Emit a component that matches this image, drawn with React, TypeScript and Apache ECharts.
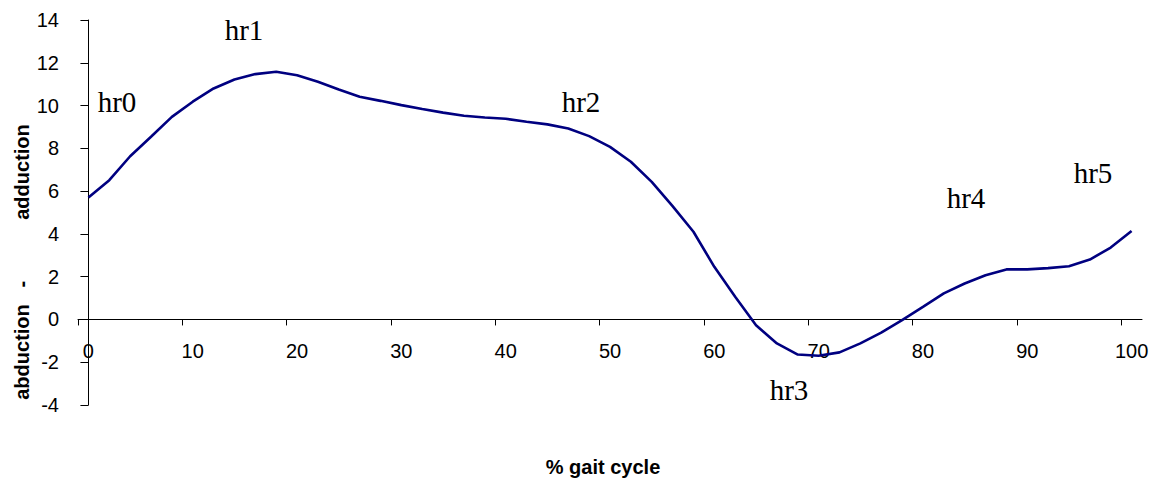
import React, { useEffect, useRef } from "react";
import * as echarts from "echarts";

// % of gait cycle (sampled every 2 %)
const gaitPct = [
  0, 2, 4, 6, 8, 10, 12, 14, 16, 18, 20, 22, 24, 26, 28, 30, 32, 34, 36, 38, 40,
  42, 44, 46, 48, 50, 52, 54, 56, 58, 60, 62, 64, 66, 68, 70, 72, 74, 76, 78, 80,
  82, 84, 86, 88, 90, 92, 94, 96, 98, 100,
];

// hip ab/adduction angle (degrees)
const hipAngle = [
  5.7, 6.51, 7.63, 8.54, 9.47, 10.18, 10.8, 11.22, 11.47, 11.58, 11.42, 11.11,
  10.75, 10.41, 10.22, 10.02, 9.84, 9.67, 9.52, 9.44, 9.38, 9.24, 9.12, 8.93,
  8.57, 8.07, 7.37, 6.43, 5.3, 4.1, 2.46, 1.06, -0.27, -1.12, -1.64, -1.7,
  -1.54, -1.12, -0.62, -0.03, 0.59, 1.22, 1.68, 2.07, 2.34, 2.34, 2.4, 2.49,
  2.8, 3.36, 4.14,
];

const xLabelValues = [0, 10, 20, 30, 40, 50, 60, 70, 80, 90, 100];
const xTickValues = [-1, 9, 19, 29, 39, 49, 59, 69, 79, 89, 99];

const yMin = -4;
const yMax = 14;

const phaseLabels = ["hr0", "hr1", "hr2", "hr3", "hr4", "hr5"];
const phaseLabelPos = [
  [117, 102],
  [244, 30],
  [581, 102],
  [789, 390],
  [966, 198],
  [1093, 173],
];

const SANS = "'Liberation Sans', Arial, sans-serif";
const SERIF = "'Liberation Serif', 'Times New Roman', serif";

const GRID_TOP = 20;
const GRID_BOTTOM = 78;
const HEIGHT = 483;

export default function App() {
  const ref = useRef<HTMLDivElement>(null);

  useEffect(() => {
    if (!ref.current) return;
    const chart = echarts.init(ref.current, undefined, { renderer: "svg" });

    const data = gaitPct.map((x, i) => [x, hipAngle[i]]);

    // move the x axis (line, ticks, labels) from the grid bottom up to y = 0
    const plotH = HEIGHT - GRID_TOP - GRID_BOTTOM;
    const zeroOffset = -(plotH * (0 - yMin)) / (yMax - yMin);

    chart.setOption({
      animation: false,
      backgroundColor: "#ffffff",
      grid: { left: 78, right: 19, top: GRID_TOP, bottom: GRID_BOTTOM, containLabel: false },
      xAxis: {
        type: "value",
        min: -1,
        max: 101,
        position: "bottom",
        offset: zeroOffset,
        axisLine: { show: true, onZero: false, lineStyle: { color: "#000", width: 1 } },
        axisTick: {
          show: true,
          customValues: xTickValues,
          length: 6,
          lineStyle: { color: "#000", width: 1 },
        },
        axisLabel: {
          customValues: xLabelValues,
          margin: 22,
          fontSize: 20,
          color: "#000",
          fontFamily: SANS,
        },
        splitLine: { show: false },
      },
      yAxis: {
        type: "value",
        min: yMin,
        max: yMax,
        interval: 2,
        axisLine: { show: true, lineStyle: { color: "#000", width: 1 } },
        axisTick: { show: true, length: 8, lineStyle: { color: "#000", width: 1 } },
        axisLabel: { margin: 19, fontSize: 20, color: "#000", fontFamily: SANS },
        splitLine: { show: false },
      },
      series: [
        {
          type: "line",
          data,
          showSymbol: false,
          smooth: false,
          lineStyle: { color: "#000080", width: 2.6 },
          itemStyle: { color: "#000080" },
        },
      ],
      graphic: [
        {
          type: "text",
          x: 603,
          y: 467,
          style: {
            text: "% gait cycle",
            font: `bold 20px ${SANS}`,
            fill: "#000",
            align: "center",
            verticalAlign: "middle",
          },
        },
        {
          type: "text",
          x: 22,
          y: 262,
          rotation: Math.PI / 2,
          style: {
            text: "abduction   -           adduction",
            font: `bold 20px ${SANS}`,
            fill: "#000",
            align: "center",
            verticalAlign: "middle",
          },
        },
        ...phaseLabels.map((t, i) => ({
          type: "text",
          x: phaseLabelPos[i][0],
          y: phaseLabelPos[i][1],
          style: {
            text: t,
            font: `29px ${SERIF}`,
            fill: "#000",
            align: "center",
            verticalAlign: "middle",
          },
        })),
      ],
    });

    return () => chart.dispose();
  }, []);

  return (
    <div
      ref={ref}
      style={{ position: "fixed", left: 0, top: 0, width: 1161, height: 483, background: "#fff" }}
    />
  );
}
